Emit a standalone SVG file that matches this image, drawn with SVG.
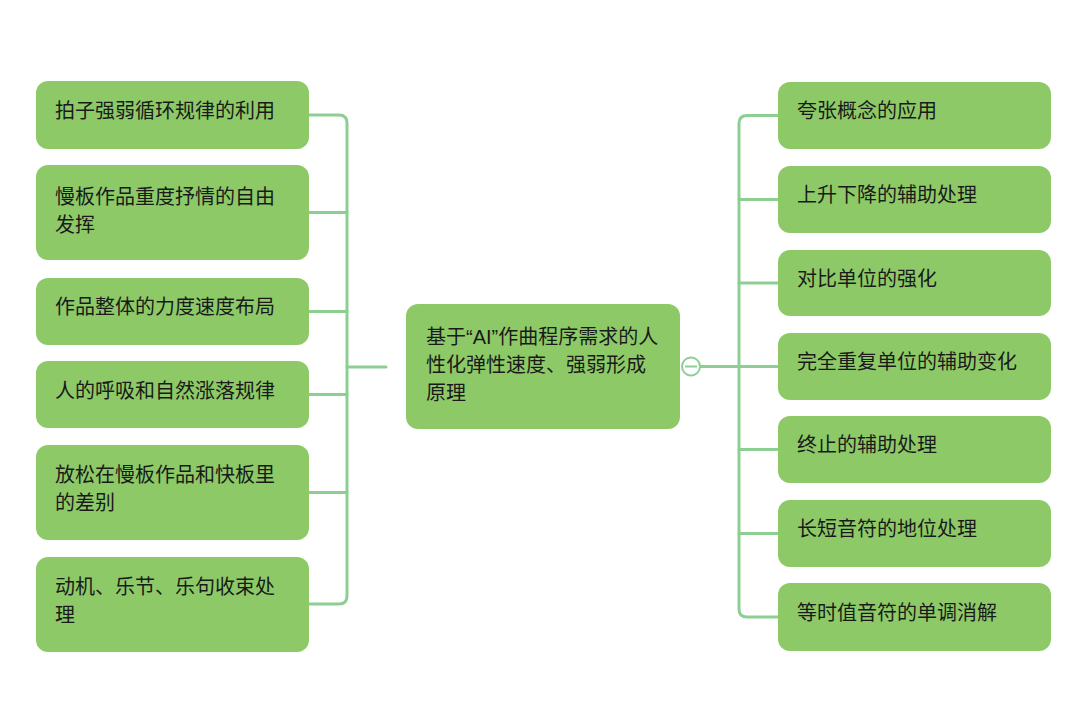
<svg xmlns="http://www.w3.org/2000/svg" width="1080" height="711" viewBox="0 0 1080 711">
<style>
.node{fill:#8dca67;}
.t{font-family:"Noto Sans CJK SC","Noto Sans",sans-serif;font-size:20px;fill:#1a1a1a;}
.q{font-family:"Liberation Sans",sans-serif;}
.c{fill:none;stroke:#8dcf93;stroke-width:3;stroke-linecap:round;stroke-linejoin:round;}
</style>
<rect width="1080" height="711" fill="#ffffff"/>
<g id="connectors">
<path class="c" d="M309,115 H339 Q347,115 347,123 V596 Q347,604 339,604 H309"/>
<path class="c" d="M309,212.5 H347 M309,311.5 H347 M309,394.5 H347 M309,492.5 H347 M347,367 H386"/>
<path class="c" d="M701,366.5 H778"/>
<path class="c" d="M778,115.5 H747 Q739,115.5 739,123.5 V609 Q739,617 747,617 H778"/>
<path class="c" d="M739,199.5 H778 M739,283 H778 M739,449.5 H778 M739,533.5 H778"/>
<circle cx="691" cy="366.5" r="9" fill="#ffffff" stroke="#8dcf93" stroke-width="2"/>
<line x1="685" y1="366.5" x2="697" y2="366.5" stroke="#8dcf93" stroke-width="2"/>
</g>
<g id="center">
<rect class="node" x="406" y="304" width="274" height="125" rx="12"/>
<text class="t" x="426" y="344">基于<tspan class="q">“AI”</tspan>作曲程序需求的人</text>
<text class="t" x="426" y="372">性化弹性速度、强弱形成</text>
<text class="t" x="426" y="400">原理</text>
</g>
<g id="L1">
<rect class="node" x="36" y="81" width="273" height="68" rx="12"/>
<text class="t" x="55" y="118">拍子强弱循环规律的利用</text>
</g>
<g id="L2">
<rect class="node" x="36" y="165" width="273" height="95" rx="12"/>
<text class="t" x="55" y="204">慢板作品重度抒情的自由</text>
<text class="t" x="55" y="232">发挥</text>
</g>
<g id="L3">
<rect class="node" x="36" y="278" width="273" height="67" rx="12"/>
<text class="t" x="55" y="314">作品整体的力度速度布局</text>
</g>
<g id="L4">
<rect class="node" x="36" y="361" width="273" height="67" rx="12"/>
<text class="t" x="55" y="398">人的呼吸和自然涨落规律</text>
</g>
<g id="L5">
<rect class="node" x="36" y="445" width="273" height="95" rx="12"/>
<text class="t" x="55" y="482">放松在慢板作品和快板里</text>
<text class="t" x="55" y="510">的差别</text>
</g>
<g id="L6">
<rect class="node" x="36" y="557" width="273" height="95" rx="12"/>
<text class="t" x="55" y="594">动机、乐节、乐句收束处</text>
<text class="t" x="55" y="622">理</text>
</g>
<g id="R1">
<rect class="node" x="778" y="82" width="273" height="67" rx="12"/>
<text class="t" x="797" y="118">夸张概念的应用</text>
</g>
<g id="R2">
<rect class="node" x="778" y="166" width="273" height="67" rx="12"/>
<text class="t" x="797" y="202">上升下降的辅助处理</text>
</g>
<g id="R3">
<rect class="node" x="778" y="250" width="273" height="66" rx="12"/>
<text class="t" x="797" y="286">对比单位的强化</text>
</g>
<g id="R4">
<rect class="node" x="778" y="333" width="273" height="67" rx="12"/>
<text class="t" x="797" y="369">完全重复单位的辅助变化</text>
</g>
<g id="R5">
<rect class="node" x="778" y="416" width="273" height="67" rx="12"/>
<text class="t" x="797" y="452">终止的辅助处理</text>
</g>
<g id="R6">
<rect class="node" x="778" y="500" width="273" height="67" rx="12"/>
<text class="t" x="797" y="536">长短音符的地位处理</text>
</g>
<g id="R7">
<rect class="node" x="778" y="583" width="273" height="68" rx="12"/>
<text class="t" x="797" y="620">等时值音符的单调消解</text>
</g>
</svg>
